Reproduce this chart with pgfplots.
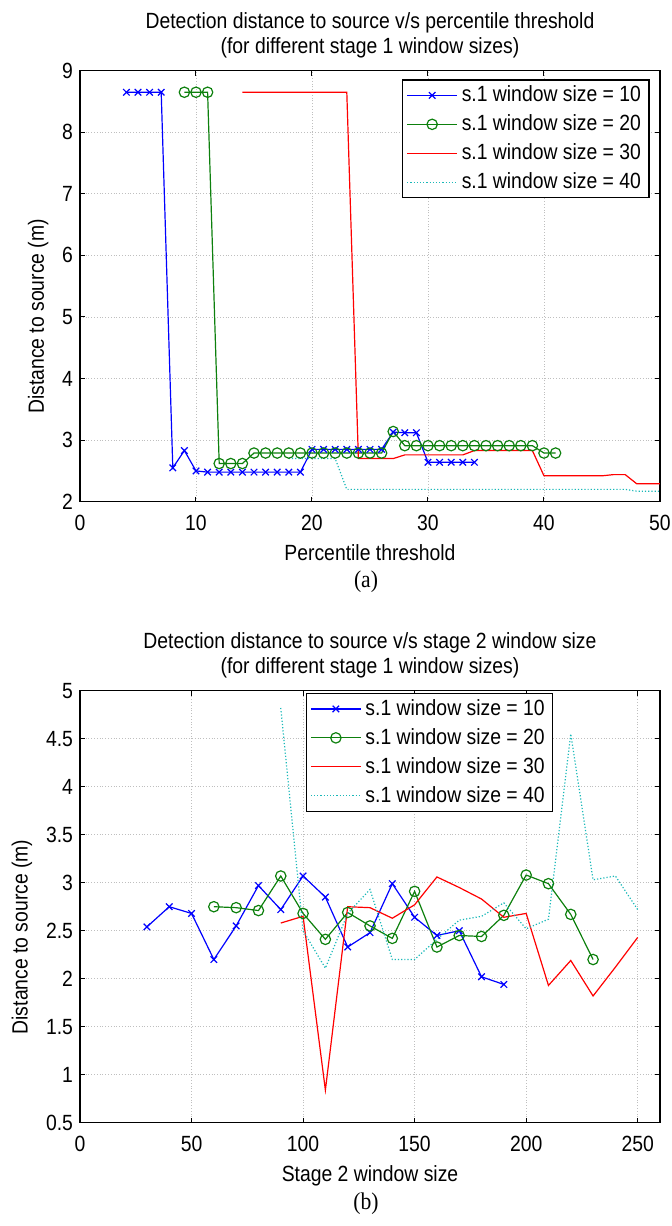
\documentclass[border=0pt]{standalone}
\usepackage{fontspec}
\setmainfont{Liberation Sans}[FakeStretch=0.88]
\newfontfamily\capfont{Liberation Serif}[FakeStretch=0.9]
\usepackage{pgfplots}
\pgfplotsset{compat=1.18}

\definecolor{mblue}{rgb}{0,0,1}
\definecolor{mgreen}{rgb}{0.05,0.5,0.05}
\definecolor{mred}{rgb}{1,0,0}
\definecolor{mcyan}{rgb}{0.1,0.72,0.72}

\pgfplotsset{
  matlab/.style={
    scale only axis, width=290pt,
    grid=major, grid style={gray!50, densely dotted, line width=0.4pt},
    axis line style={line width=0.6pt},
    tick align=inside, major tick length=2.5pt,
    tick style={black, line width=0.5pt},
    /pgf/number format/assume math mode=true,
    ticklabel style={font=\fontsize{11}{12}\selectfont},
    xticklabel style={yshift=-3pt},
    label style={font=\fontsize{11}{12}\selectfont},
    ylabel style={at={(ticklabel cs:0.43)}},
    title style={font=\fontsize{11}{12.5}\selectfont, align=center, yshift=-3pt},
    legend style={font=\fontsize{11}{12}\selectfont, draw=black, line width=0.6pt,
                  fill=white, inner xsep=2pt, inner ysep=1pt, row sep=1pt},
    legend cell align=left,
    legend image code/.code={
      \draw[mark repeat=2, mark phase=2, #1]
        plot coordinates {(0pt,0pt) (12.5pt,0pt) (25pt,0pt)};
    },
  },
  s10/.style={mblue, line width=0.6pt, mark=x, mark size=2.3pt, mark options={solid}},
  s20/.style={mgreen, line width=0.6pt, mark=o, mark size=2.6pt, mark options={solid}},
  s30/.style={mred, line width=0.6pt, no marks},
  s40/.style={mcyan, line width=0.6pt, densely dotted, no marks},
}

\begin{document}
\begin{tikzpicture}

% (a) percentile threshold
\begin{axis}[matlab,
    at={(40pt,-35.35pt)}, anchor=north west, height=215.5pt,
    title={Detection distance to source v/s percentile threshold\\(for different stage 1 window sizes)},
    xlabel={Percentile threshold},
    ylabel={Distance to source (m)},
    xmin=0, xmax=50, ymin=2, ymax=9,
    xtick={0,10,20,30,40,50}, ytick={2,3,4,5,6,7,8,9},
    legend style={at={(0.982,0.98)}, anchor=north east},
  ]
  \addplot[s10] coordinates {
    (4,8.65) (5,8.65) (6,8.65) (7,8.65) (8,2.55) (9,2.83) (10,2.50)
    (11,2.48) (12,2.48) (13,2.48) (14,2.48) (15,2.48) (16,2.48) (17,2.48)
    (18,2.48) (19,2.48) (20,2.85) (21,2.85) (22,2.85) (23,2.85) (24,2.85)
    (25,2.85) (26,2.85) (27,3.13) (28,3.12) (29,3.12) (30,2.64) (31,2.64)
    (32,2.64) (33,2.64) (34,2.64)
  };
  \addplot[s20] coordinates {
    (9,8.65) (10,8.65) (11,8.65) (12,2.62) (13,2.62) (14,2.62)
    (15,2.79) (16,2.79) (17,2.79) (18,2.79) (19,2.79) (20,2.79) (21,2.79)
    (22,2.79) (23,2.79) (24,2.79) (25,2.79) (26,2.79) (27,3.14)
    (28,2.91) (29,2.91) (30,2.91) (31,2.91) (32,2.91) (33,2.91) (34,2.91)
    (35,2.91) (36,2.91) (37,2.91) (38,2.91) (39,2.91) (40,2.79) (41,2.79)
  };
  \addplot[s30] coordinates {
    (14,8.65) (15,8.65) (16,8.65) (17,8.65) (18,8.65) (19,8.65) (20,8.65)
    (21,8.65) (22,8.65) (23,8.65) (24,2.70) (25,2.70) (26,2.70) (27,2.70)
    (28,2.76) (29,2.76) (30,2.76) (31,2.76) (32,2.76) (33,2.76)
    (34,2.83) (35,2.83) (36,2.83) (37,2.83) (38,2.83) (39,2.83)
    (40,2.42) (41,2.42) (42,2.42) (43,2.42) (44,2.42) (45,2.42)
    (46,2.44) (47,2.44) (48,2.29) (49,2.29) (50,2.29)
  };
  \addplot[s40] coordinates {
    (18,2.70) (19,2.70) (20,2.70) (21,2.70) (22,2.70) (23,2.20) (24,2.20)
    (25,2.20) (26,2.20) (27,2.20) (28,2.20) (29,2.20) (30,2.20) (31,2.20)
    (32,2.20) (33,2.20) (34,2.20) (35,2.20) (36,2.20) (37,2.20) (38,2.20)
    (39,2.20) (40,2.20) (41,2.20) (42,2.20) (43,2.20) (44,2.20) (45,2.20)
    (46,2.20) (47,2.20) (48,2.17) (49,2.17) (50,2.17)
  };
  \legend{s.1 window size = 10, s.1 window size = 20,
          s.1 window size = 30, s.1 window size = 40}
\end{axis}

% (b) stage 2 window size
\begin{axis}[matlab,
    at={(40pt,-345.35pt)}, anchor=north west, height=216pt,
    title={Detection distance to source v/s stage 2 window size\\(for different stage 1 window sizes)},
    xlabel={Stage 2 window size},
    ylabel={Distance to source (m)},
    xmin=0, xmax=260, ymin=0.5, ymax=5,
    xtick={0,50,100,150,200,250},
    ytick={0.5,1,1.5,2,2.5,3,3.5,4,4.5,5},
    legend style={at={(0.816,0.995)}, anchor=north east},
  ]
  \addplot[s10] coordinates {
    (30,2.54) (40,2.75) (50,2.68) (60,2.20) (70,2.55) (80,2.97) (90,2.72)
    (100,3.07) (110,2.85) (120,2.33) (130,2.48) (140,2.99) (150,2.64)
    (160,2.45) (170,2.50) (180,2.02) (190,1.94)
  };
  \addplot[s20] coordinates {
    (60,2.75) (70,2.74) (80,2.71) (90,3.07) (100,2.68) (110,2.41)
    (120,2.69) (130,2.55) (140,2.42) (150,2.91) (160,2.33) (170,2.45)
    (180,2.44) (190,2.66) (200,3.08) (210,2.99) (220,2.67) (230,2.20)
  };
  \addplot[s30] coordinates {
    (90,2.58) (100,2.65) (110,0.84) (120,2.75) (130,2.74) (140,2.63)
    (150,2.77) (160,3.06) (170,2.95) (180,2.83) (190,2.64) (200,2.68)
    (210,1.93) (220,2.19) (230,1.82) (240,2.12) (250,2.43)
  };
  \addplot[s40] coordinates {
    (90,4.82) (100,2.50) (110,2.11) (120,2.68) (130,2.93) (140,2.20)
    (150,2.20) (160,2.41) (170,2.61) (180,2.65) (190,2.79) (200,2.52)
    (210,2.62) (220,4.55) (230,3.03) (240,3.07) (250,2.72)
  };
  \legend{s.1 window size = 10, s.1 window size = 20,
          s.1 window size = 30, s.1 window size = 40}
\end{axis}

\node[font=\capfont\fontsize{12}{14}\selectfont] at (183pt,-291pt) {(a)};
\node[font=\capfont\fontsize{12}{14}\selectfont] at (183pt,-602pt) {(b)};

\pgfresetboundingbox
\path[use as bounding box] (0pt,0pt) rectangle (336pt,-613pt);
\end{tikzpicture}
\end{document}
